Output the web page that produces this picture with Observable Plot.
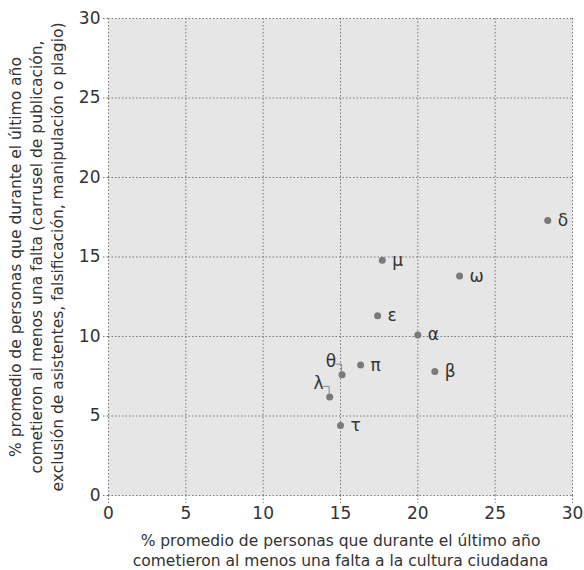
<!DOCTYPE html>
<html>
<head>
<meta charset="utf-8">
<script src="https://cdn.jsdelivr.net/npm/d3@7"></script>
<script src="https://cdn.jsdelivr.net/npm/@observablehq/plot@0.6"></script>
<style>
  html, body { margin: 0; padding: 0; background: #fff; }
  #chart svg { display: block; }
</style>
</head>
<body>
<div id="chart"></div>
<script>
const labels = ["δ", "μ", "ω", "ε", "α", "π", "β", "θ", "λ", "τ"];
const xValues = [28.4, 17.7, 22.7, 17.4, 20.0, 16.3, 21.1, 15.1, 14.3, 15.0];
const yValues = [17.3, 14.8, 13.8, 11.3, 10.1, 8.2, 7.8, 7.6, 6.2, 4.4];
const leftLabeled = ["θ", "λ"];
const xTicks = [0, 5, 10, 15, 20, 25, 30];
const yTicks = [0, 5, 10, 15, 20, 25, 30];
const xTitle = "% promedio de personas que durante el último año\ncometieron al menos una falta a la cultura ciudadana";
const yTitle = "% promedio de personas que durante el último año\ncometieron al menos una falta (carrusel de publicación,\nexclusión de asistentes, falsificación, manipulación o plagio)";

const data = labels.map((l, i) => ({label: l, x: xValues[i], y: yValues[i], left: leftLabeled.includes(l)}));
const rightData = data.filter(d => !d.left);
const leftData = data.filter(d => d.left);

const font = "'DejaVu Sans', sans-serif";
const textColor = "#333";
const gridColor = "#777";
const dash = "1.5,2";

// leader lines drawn from the library's scales
function leaders(index, scales, values, dims, context) {
  const g = d3.create("svg:g").attr("fill", "none").attr("stroke", "#888").attr("stroke-width", 1);
  for (const d of leftData) {
    const px = scales.x(d.x), py = scales.y(d.y);
    g.append("path").attr("d", `M${px - 6},${py - 10}H${px}V${py - 3}`);
  }
  return g.node();
}

const chart = Plot.plot({
  width: 584,
  height: 570,
  marginLeft: 108,
  marginRight: 12,
  marginTop: 18,
  marginBottom: 75,
  style: {fontFamily: font, fontSize: "17px", color: textColor, background: "#fff"},
  x: {domain: [0, 30]},
  y: {domain: [0, 30]},
  marks: [
    Plot.frame({fill: "#e6e6e6", stroke: null}),
    Plot.gridX(xTicks, {stroke: gridColor, strokeOpacity: 1, strokeDasharray: dash}),
    Plot.gridY(yTicks, {stroke: gridColor, strokeOpacity: 1, strokeDasharray: dash}),
    Plot.axisX(xTicks, {tickSize: 8, tickPadding: 3, stroke: gridColor, strokeDasharray: dash, fontSize: 17, fill: textColor, label: null}),
    Plot.axisY(yTicks, {tickSize: 6, tickPadding: 2, stroke: gridColor, strokeDasharray: dash, fontSize: 17, fill: textColor, label: null}),
    leaders,
    Plot.dot(data, {x: "x", y: "y", r: 3.5, fill: "#7a7a7a", stroke: null}),
    Plot.text(rightData, {x: "x", y: "y", text: "label", dx: 10, textAnchor: "start", fontSize: 17, fill: textColor}),
    Plot.text(leftData, {x: "x", y: "y", text: "label", dx: -6, dy: -13, textAnchor: "end", fontSize: 17, fill: textColor}),
    Plot.text([xTitle], {frameAnchor: "bottom", dy: 54, text: d => d, lineAnchor: "middle", textAnchor: "middle", fontSize: 15.5, lineHeight: 1.33, fill: textColor}),
    Plot.text([yTitle], {frameAnchor: "left", dx: -73, rotate: -90, text: d => d, lineAnchor: "middle", textAnchor: "middle", fontSize: 15.5, lineHeight: 1.33, fill: textColor})
  ]
});
document.getElementById("chart").appendChild(chart);
</script>
</body>
</html>
